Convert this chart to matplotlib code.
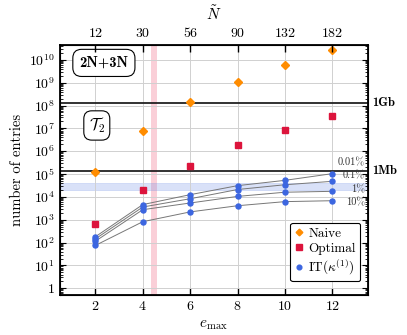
import math
import matplotlib
matplotlib.use('Agg')
import matplotlib.pyplot as plt
from matplotlib.ticker import FixedLocator, LogLocator, FuncFormatter, NullFormatter

plt.rcParams['font.family'] = ['cmr10', 'DejaVu Serif']
plt.rcParams['mathtext.fontset'] = 'cm'
plt.rcParams['axes.formatter.use_mathtext'] = True

# data
e_max = [2, 4, 6, 8, 10, 12]
n_tilde = [12, 30, 56, 90, 132, 182]
naive = [1.2e5, 8.0e6, 1.4e8, 1.1e9, 6.0e9, 2.7e10]
optimal = [660, 2.0e4, 2.3e5, 1.8e6, 8.6e6, 3.4e7]
it_0p01 = [180, 4.6e3, 1.25e4, 3.1e4, 5.3e4, 1.04e5]
it_0p1 = [145, 3.6e3, 8.3e3, 2.1e4, 3.4e4, 4.8e4]
it_1 = [115, 2.75e3, 5.4e3, 1.05e4, 1.6e4, 1.75e4]
it_10 = [75, 820, 2.2e3, 4.1e3, 6.2e3, 6.8e3]
it_series = [it_0p01, it_0p1, it_1, it_10]
pct_labels = ['0.01%', '0.1%', '1%', '10%']
pct_y = [3.2e5, 8.5e4, 2.1e4, 5.4e3]
one_gb = 2**30 / 8
one_mb = 2**20 / 8

fig = plt.figure(figsize=(4.07, 3.35), dpi=100)
ax = fig.add_axes([0.147, 0.119, 0.757, 0.747])
ax.set_yscale('log')
ax.set_xlim(0.5, 13.5)
ax.set_ylim(0.5, 4.5e10)

ax.grid(True, which='major', color='#d0d0d0', lw=0.7, zorder=0)
ax.axvspan(4.33, 4.6, color='#f06080', alpha=0.3, lw=0, zorder=1)
ax.axhspan(2.0e4, 4.0e4, facecolor='#6a8ae6', alpha=0.25, edgecolor='#6a8ae6', lw=0.6, zorder=1)
ax.axhline(one_gb, color='#222222', lw=1.3, zorder=2)
ax.axhline(one_mb, color='#222222', lw=1.3, zorder=2)

for s in it_series:
    ax.plot(e_max, s, color='#777777', lw=0.7, zorder=3)
    ax.plot(e_max, s, ls='none', marker='o', ms=3.6, color='#3c66e0', zorder=4)

ax.plot(e_max, naive, ls='none', marker='D', ms=3.6, color='#ff8c00', zorder=4)
ax.plot(e_max, optimal, ls='none', marker='s', ms=5, color='#dc143c', zorder=4)

# legend proxies
h1, = ax.plot([], [], ls='none', marker='D', ms=3.4, color='#ff8c00', label='Naive')
h2, = ax.plot([], [], ls='none', marker='s', ms=4.2, color='#dc143c', label='Optimal')
h3, = ax.plot([], [], ls='none', marker='o', ms=3.4, color='#3c66e0', label=r'IT($\kappa^{(1)}$)')
leg = ax.legend(handles=[h1, h2, h3], loc='lower right', fontsize=9.5, frameon=True,
                fancybox=True, edgecolor='black', framealpha=1, handlelength=0.6,
                handletextpad=0.4, borderpad=0.35, labelspacing=0.2, borderaxespad=0.0,
                bbox_to_anchor=(0.975, 0.055))
leg.get_frame().set_linewidth(0.8)
leg.set_zorder(6)

for lab, yv in zip(pct_labels, pct_y):
    ax.text(0.99, yv, lab, transform=ax.get_yaxis_transform(), ha='right', va='center',
            fontsize=7.5, color='#333333', zorder=5)

ax.text(1.015, one_gb, '1Gb', transform=ax.get_yaxis_transform(), ha='left', va='center',
        fontsize=9, family='cmb10')
ax.text(1.015, one_mb, '1Mb', transform=ax.get_yaxis_transform(), ha='left', va='center',
        fontsize=9, family='cmb10')

box = dict(boxstyle='round,pad=0.45,rounding_size=0.6', fc='white', ec='black', lw=0.8)
ax.text(0.143, 0.928, '2N+3N', transform=ax.transAxes, ha='center', va='center',
        fontsize=10.5, family='cmb10', bbox=box, zorder=6)
box2 = dict(boxstyle='round,pad=0.3,rounding_size=0.5', fc='white', ec='black', lw=0.8)
ax.text(0.12, 0.678, r'$\mathcal{T}_2$', transform=ax.transAxes, ha='center', va='center',
        fontsize=11.5, bbox=box2, zorder=6)

# axes, ticks
ax.set_xticks(e_max)
ax.yaxis.set_major_locator(FixedLocator([10.0**k for k in range(0, 11)]))
ax.yaxis.set_minor_locator(LogLocator(base=10, subs=range(2, 10), numticks=20))
ax.yaxis.set_minor_formatter(NullFormatter())
ax.yaxis.set_major_formatter(FuncFormatter(
    lambda v, p: '$1$' if abs(v - 1) < 1e-9 else r'$10^{%d}$' % round(math.log10(v))))
ax.tick_params(axis='both', which='both', direction='in', labelsize=10)
ax.tick_params(axis='y', which='both', right=True)
ax.tick_params(axis='y', which='major', length=4)
ax.tick_params(axis='y', which='minor', length=2.5)
ax.tick_params(axis='x', which='major', length=5, width=1, top=False)
for sp in ax.spines.values():
    sp.set_linewidth(1.3)

ax.set_xlabel(r'$e_{\rm max}$', fontsize=11)
ax.set_ylabel('number of entries', fontsize=10.5)

top = ax.twiny()
top.set_xlim(ax.get_xlim())
top.set_xticks(e_max)
top.set_xticklabels([str(n) for n in n_tilde])
top.tick_params(direction='in', length=5, width=1, labelsize=10, colors='black')
top.set_xlabel(r'$\tilde{N}$', fontsize=11, labelpad=6)

fig.savefig('out.png', dpi=100)
